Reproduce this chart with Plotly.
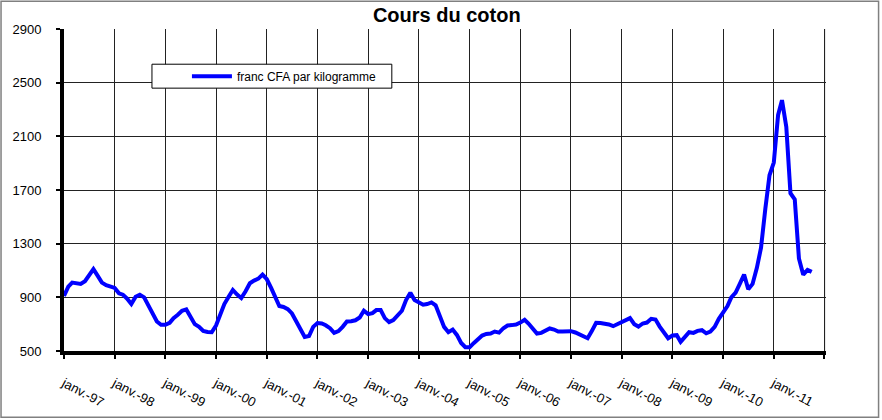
import plotly.graph_objects as go
import pandas as pd

# Monthly cotton price, franc CFA per kilogram, Jan 1997 - Oct 2011
start_month = "1997-01-01"
values = [
    910, 980, 1010, 1005, 1000, 1020, 1065, 1110, 1060, 1010, 990, 980,   # 1997
    970, 930, 920, 890, 850, 905, 920, 900, 840, 780, 720, 695,          # 1998
    695, 710, 745, 770, 800, 810, 760, 700, 680, 650, 642, 640,          # 1999
    690, 780, 850, 905, 955, 920, 895, 945, 1005, 1025, 1040, 1070,      # 2000
    1035, 970, 905, 835, 828, 812, 780, 720, 675, 605, 612, 680,         # 2001
    708, 705, 692, 670, 635, 648, 680, 720, 722, 729, 750, 800,          # 2002
    775, 782, 805, 805, 745, 715, 730, 765, 800, 880, 935, 880,          # 2003
    866, 845, 850, 862, 840, 765, 680, 640, 660, 620, 560, 528,          # 2004
    528, 560, 590, 615, 627, 630, 645, 637, 670, 690, 693, 697,          # 2005
    712, 733, 705, 668, 630, 635, 650, 668, 660, 645, 645, 650,          # 2006
    648, 638, 625, 610, 595, 650, 710, 708, 705, 698, 685, 700,          # 2007
    720, 737, 745, 700, 682, 705, 712, 740, 735, 682, 640, 595,          # 2008
    615, 618, 568, 605, 640, 635, 650, 655, 632, 645, 680, 740,          # 2009
    785, 835, 900, 935, 1000, 1070, 960, 1000, 1120, 1270, 1560, 1810,   # 2010
    1905, 2260, 2370, 2170, 1676, 1630, 1190, 1069, 1105, 1090,          # 2011
]
dates = pd.date_range(start_month, periods=len(values), freq="MS")

series_name = "franc CFA par kilogramme"
title_text = "Cours du coton"
tick_years = list(range(1997, 2013))
tick_labels = ["janv.-%02d" % (y % 100) for y in range(1997, 2012)] + [" "]
y_ticks = [500, 900, 1300, 1700, 2100, 2500, 2900]

fig = go.Figure()
fig.add_trace(go.Scatter(
    x=dates, y=values, mode="lines", name=series_name,
    line=dict(color="#0000FF", width=4),
))

W, H = 882, 420
L, R, T, B = 64, 826.4, 28.7, 351.5
pw, ph = R - L, B - T

def px(x):
    return (x - L) / pw

def py(y):
    return (B - y) / ph

font = "Arial, Liberation Sans, sans-serif"

fig.update_layout(
    width=W, height=H,
    margin=dict(l=L, r=W - R, t=T, b=H - B, pad=0, autoexpand=False),
    paper_bgcolor="white", plot_bgcolor="white",
    font=dict(family=font, color="black", size=12),
    title=dict(text="<b>%s</b>" % title_text, x=px(447), xref="paper",
               y=1 - 15 / H, yref="container", xanchor="center", yanchor="middle",
               font=dict(size=20, family=font, color="black")),
    showlegend=True,
    legend=dict(x=px(187), y=py(76), xanchor="left", yanchor="middle",
                bgcolor="rgba(0,0,0,0)", borderwidth=0,
                font=dict(size=12, family=font), itemwidth=40),
    xaxis=dict(
        type="date", range=["1997-01-01", "2012-01-12"], automargin=False,
        tickmode="array",
        tickvals=["%d-01-01" % y for y in tick_years],
        ticktext=tick_labels, tickangle=28,
        showgrid=True, gridcolor="#222222", gridwidth=1,
        showline=True, linecolor="black", linewidth=4,
        ticks="outside", ticklen=4, tickwidth=2, tickcolor="black",
        tickfont=dict(size=13, family=font), ticklabelstandoff=12,
        zeroline=False,
    ),
    yaxis=dict(
        range=[500, 2900.5], tickvals=y_ticks, automargin=False,
        showgrid=True, gridcolor="#222222", gridwidth=1,
        showline=True, linecolor="black", linewidth=4,
        ticks="outside", ticklen=4, tickwidth=2, tickcolor="black",
        tickfont=dict(size=13, family=font), ticklabelstandoff=12,
        zeroline=False,
    ),
    shapes=[
        dict(type="line", xref="paper", yref="paper",
             x0=px(825), x1=px(825), y0=0, y1=1,
             line=dict(color="#222222", width=1), layer="above"),
        dict(type="rect", xref="paper", yref="paper",
             x0=px(152), x1=px(392), y0=py(88), y1=py(64),
             line=dict(color="black", width=1), fillcolor="white", layer="above"),
        dict(type="rect", xref="paper", yref="paper",
             x0=px(1), x1=px(879), y0=py(418), y1=py(1),
             line=dict(color="#808080", width=1.5), fillcolor="rgba(0,0,0,0)"),
    ],
)

fig.write_html("out.html", config={"displayModeBar": False},
               post_script="document.body.style.margin='0';")
